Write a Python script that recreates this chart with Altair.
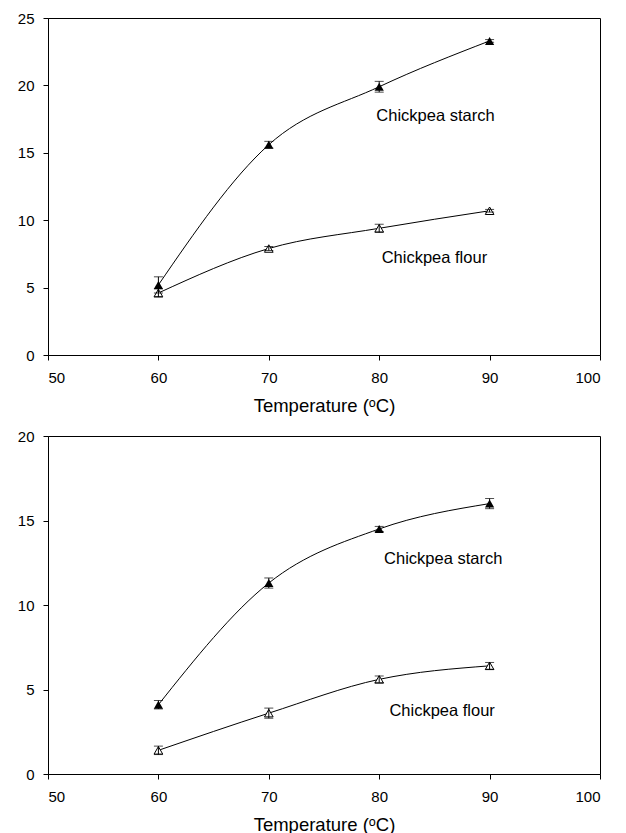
import altair as alt
import pandas as pd

temps = [60, 70, 80, 90]

a_starch = [5.2, 15.6, 19.9, 23.3]
a_starch_err = [0.6, 0.25, 0.4, 0.1]
a_flour = [4.6, 7.9, 9.4, 10.7]
a_flour_err = [0.3, 0.15, 0.3, 0.1]

b_starch = [4.1, 11.3, 14.5, 16.0]
b_starch_err = [0.25, 0.3, 0.15, 0.3]
b_flour = [1.4, 3.6, 5.6, 6.4]
b_flour_err = [0.25, 0.3, 0.2, 0.2]

label_text = ["Chickpea starch", "Chickpea flour"]
a_label_x = [85.1, 85.0]
a_label_y = [17.7, 7.2]
b_label_x = [85.8, 85.7]
b_label_y = [12.7, 3.75]

x_ticks = [50, 60, 70, 80, 90, 100]
a_y_ticks = [0, 5, 10, 15, 20, 25]
b_y_ticks = [0, 5, 10, 15, 20]

FONT = "Liberation Sans"


def make_df(starch, starch_err, flour, flour_err):
    rows = []
    for t, v, e in zip(temps, starch, starch_err):
        rows.append({"t": t, "v": v, "lo": v - e, "hi": v + e, "s": "starch"})
    for t, v, e in zip(temps, flour, flour_err):
        rows.append({"t": t, "v": v, "lo": v - e, "hi": v + e, "s": "flour"})
    return pd.DataFrame(rows)


def panel(df, lab_x, lab_y, ymax, yticks, h):
    xs = alt.Scale(domain=[50, 100], nice=False)
    ys = alt.Scale(domain=[0, ymax], nice=False)
    xenc = alt.X("t:Q", scale=xs, axis=alt.Axis(values=x_ticks, title="Temperature (ᵒC)",
                                                 format="d"))
    yenc = alt.Y("v:Q", scale=ys, axis=alt.Axis(values=yticks, title=None))
    base = alt.Chart(df)
    line = base.mark_line(color="black", strokeWidth=1, interpolate="monotone").encode(
        x=xenc, y=yenc, detail="s:N")
    filled = base.transform_filter(alt.datum.s == "starch").mark_point(
        shape="triangle-up", filled=True, color="black", size=85, opacity=1).encode(x=xenc, y=yenc)
    hollow = base.transform_filter(alt.datum.s == "flour").mark_point(
        shape="triangle-up", filled=False, fill="white", stroke="black", strokeWidth=1,
        size=75, opacity=1, fillOpacity=1).encode(x=xenc, y=yenc)
    rule = base.mark_rule(color="black", strokeWidth=1).encode(
        x=xenc, y=alt.Y("lo:Q", scale=ys), y2="hi:Q")
    cap_hi = base.mark_tick(color="black", orient="horizontal", size=9, thickness=1).encode(
        x=xenc, y=alt.Y("hi:Q", scale=ys))
    cap_lo = base.mark_tick(color="black", orient="horizontal", size=9, thickness=1).encode(
        x=xenc, y=alt.Y("lo:Q", scale=ys))
    lab_df = pd.DataFrame({"x": lab_x, "y": lab_y, "txt": label_text})
    labels = alt.Chart(lab_df).mark_text(font=FONT, fontSize=16.5, color="black",
                                         align="center", baseline="middle").encode(
        x=alt.X("x:Q", scale=xs), y=alt.Y("y:Q", scale=ys), text="txt:N")
    return alt.layer(line, hollow, filled, rule, cap_hi, cap_lo, labels).properties(
        width=552, height=h)


top = panel(make_df(a_starch, a_starch_err, a_flour, a_flour_err), a_label_x, a_label_y,
            25, a_y_ticks, 337)
bottom = panel(make_df(b_starch, b_starch_err, b_flour, b_flour_err), b_label_x, b_label_y,
               20, b_y_ticks, 338)

chart = alt.vconcat(top, bottom, spacing=13).properties(
    padding={"left": 8, "top": 2, "right": 5, "bottom": 0}
).configure_view(stroke="black", strokeWidth=1).configure_axis(
    grid=False, domainColor="black", domainWidth=1, tickColor="black", tickSize=5,
    tickWidth=1, labelFont=FONT, labelFontSize=15, labelColor="black", labelPadding=10,
    titleFont=FONT, titleFontSize=18.5, titleFontWeight="normal", titleColor="black",
    titlePadding=11
).configure_axisY(labelPadding=9)

chart.save("out.html", embed_options={"renderer": "svg", "actions": False})
